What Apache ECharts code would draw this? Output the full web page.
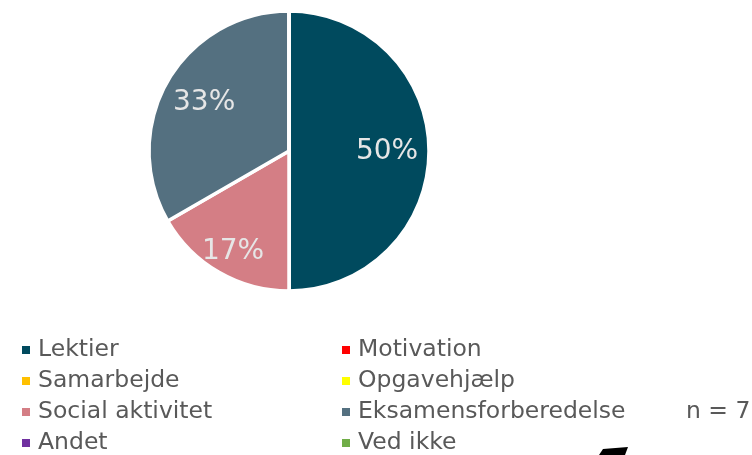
<!DOCTYPE html>
<html>
<head>
<meta charset="utf-8">
<script src="https://cdn.jsdelivr.net/npm/echarts@6/dist/echarts.min.js"></script>
<style>
  html, body { margin: 0; padding: 0; background: #fff; }
  #main { width: 752px; height: 455px; }
</style>
</head>
<body>
<div id="main"></div>
<script>
// kategorier (legend-rækkefølge) og antal svar
var categories = ['Lektier', 'Motivation', 'Samarbejde', 'Opgavehjælp', 'Social aktivitet', 'Eksamensforberedelse', 'Andet', 'Ved ikke'];
var values = [3, 0, 0, 0, 1, 2, 0, 0];
var colors = ['#004A5E', '#FF0000', '#FFC000', '#FFFF00', '#D47E85', '#547080', '#7030A0', '#70AD47'];
var leftColumn = ['Lektier', 'Samarbejde', 'Social aktivitet', 'Andet'];
var rightColumn = ['Motivation', 'Opgavehjælp', 'Eksamensforberedelse', 'Ved ikke'];
var nText = 'n = 7';

var FONT = 'DejaVu Sans';

function pieData(transparent) {
    return categories.map(function (name, i) {
        var item = {
            name: name,
            value: values[i],
            itemStyle: { color: transparent ? 'rgba(0,0,0,0)' : colors[i] }
        };
        // etiketten for den lille skive sidder lidt længere ude
        if (transparent && name === 'Social aktivitet') {
            item.label = { offset: [-7, 15] };
        }
        return item;
    });
}

function legendCol(left, data) {
    return {
        orient: 'vertical',
        left: left,
        top: 338,
        height: 150,
        padding: 0,
        itemGap: 7,
        itemWidth: 8,
        itemHeight: 8,
        icon: 'rect',
        selectedMode: false,
        itemStyle: { borderWidth: 0 },
        data: data,
        textStyle: {
            fontFamily: FONT,
            fontSize: 23.5,
            lineHeight: 24,
            color: '#595959',
            padding: [0, 0, 0, 3]
        }
    };
}

var option = {
    animation: false,
    title: {
        text: nText,
        left: 686,
        top: 400,
        padding: 0,
        textStyle: { fontFamily: FONT, fontSize: 23.5, fontWeight: 'normal', color: '#595959' }
    },
    legend: [legendCol(22, leftColumn), legendCol(342, rightColumn)],
    series: [
        {
            type: 'pie',
            center: [289, 151],
            radius: [0, 140],
            startAngle: 90,
            clockwise: true,
            silent: true,
            label: { show: false },
            labelLine: { show: false },
            itemStyle: { borderColor: '#fff', borderWidth: 3.5 },
            emphasis: { disabled: true },
            data: pieData(false)
        },
        {
            // kun til placering af procent-etiketter
            type: 'pie',
            center: [289, 152],
            radius: [50, 140],
            startAngle: 90,
            clockwise: true,
            silent: true,
            legendHoverLink: false,
            percentPrecision: 0,
            label: {
                show: true,
                position: 'inside',
                fontFamily: FONT,
                fontSize: 28,
                color: '#E6E6E6',
                formatter: function (p) {
                    return p.value > 0 ? p.percent + '%' : '';
                }
            },
            labelLine: { show: false },
            emphasis: { disabled: true },
            data: pieData(true)
        }
    ],
    graphic: [
        {
            type: 'polygon',
            shape: { points: [[603, 449], [628, 447], [625, 455], [599, 455]] },
            style: { fill: '#000' }
        }
    ]
};

var myChart = echarts.init(document.getElementById('main'));
myChart.setOption(option);
window.addEventListener('resize', function () {
    myChart.resize();
});
</script>
</body>
</html>
